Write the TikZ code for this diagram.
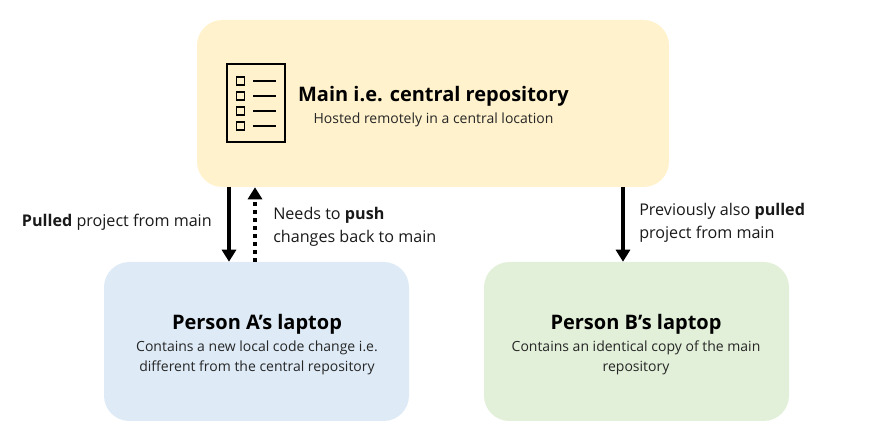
\documentclass[tikz,border=0pt]{standalone}
\usepackage{fontspec}
\setmainfont{Open Sans}
\usetikzlibrary{arrows.meta, positioning, calc}
\definecolor{mainyellow}{RGB}{255,242,204}
\definecolor{personblue}{RGB}{222,235,247}
\definecolor{persongreen}{RGB}{226,240,217}
\tikzset{
  panel/.style={
    rectangle, rounded corners=19pt, minimum width=228.75pt, minimum height=119.25pt,
    inner sep=0pt
  },
  title/.style={font=\fontsize{15}{17}\selectfont\bfseries, inner sep=0pt, text=black},
  subtitle/.style={font=\fontsize{10.5}{15}\selectfont, align=center, inner sep=0pt, text=black!85},
  caption/.style={font=\fontsize{12.1}{17}\selectfont, align=left, inner sep=0pt, text=black!90},
  arrowpull/.style={-{Triangle[length=9pt,width=10.5pt]}, line width=2.6pt, color=black},
  arrowpush/.style={-{Triangle[length=9pt,width=10.5pt]}, line width=2.6pt, dash pattern=on 3pt off 3pt, color=black},
  iconline/.style={line width=1.2pt, color=black},
  iconbox/.style={rectangle, draw=black, line width=1.1pt, minimum size=6pt, inner sep=0pt}
}
\begin{document}
\begin{tikzpicture}[x=0.75pt, y=-0.75pt]
  \useasboundingbox (0,0) rectangle (876,445);
  \node[panel, fill=mainyellow, minimum width=354pt, minimum height=125.25pt] (main) at (433,103.5) {};
  \node[panel, fill=personblue]  (personA) at (256.5,341.5) {};
  \node[panel, fill=persongreen] (personB) at (636.5,341.5) {};

  % icon
  \node[rectangle, draw=black, line width=1.6pt, minimum width=43pt, minimum height=58.5pt, inner sep=0pt] (icon) at (256,103) {};
  \foreach \y/\n in {81/a, 96/b, 111/c, 126/d} {
    \node[iconbox] (box\n) at (240.5,\y) {};
    \coordinate (end\n) at (276,\y);
    \draw[iconline] ([xshift=6pt]box\n.east) -- (end\n);
  }

  % text in the boxes
  \node[title] (maintitle) at (433.5,96) {Main i.e. central repository};
  \node[subtitle, below=4.5pt of maintitle] (mainsub) {Hosted remotely in a central location};
  \node[title] (atitle) at (257,324) {Person A’s laptop};
  \node[subtitle, below=5pt of atitle] (asub) {Contains a new local code change i.e.\\different from the central repository};
  \node[title] (btitle) at (636,324) {Person B’s laptop};
  \node[subtitle, below=5pt of btitle] (bsub) {Contains an identical copy of the main\\repository};

  % connectors
  \draw[arrowpull] ([xshift=-153pt]main.south) -- ([xshift=-153pt]main.south |- personA.north);
  \draw[arrowpush] ([xshift=-133.5pt]main.south |- personA.north) -- ([xshift=-133.5pt]main.south);
  \draw[arrowpull] ([xshift=142.5pt]main.south) -- ([xshift=142.5pt]main.south |- personB.north);

  \node[caption, anchor=east] (pulltext) at (212,222.5) {\textbf{Pulled} project from main};
  \node[caption, anchor=west] (pushtext) at (273,226.5) {Needs to \textbf{push}\\changes back to main};
  \node[caption, anchor=west] (alsotext) at (639,223) {Previously also \textbf{pulled}\\project from main};
\end{tikzpicture}
\end{document}
